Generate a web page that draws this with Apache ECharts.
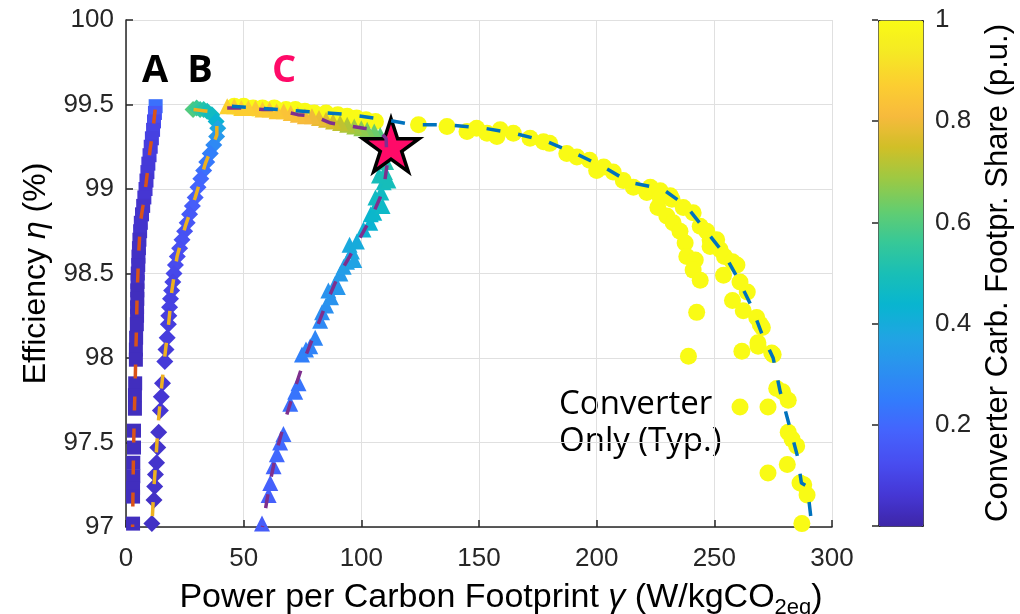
<!DOCTYPE html>
<html>
<head>
<meta charset="utf-8">
<script src="https://cdn.jsdelivr.net/npm/echarts/dist/echarts.min.js"></script>
<style>html,body{margin:0;padding:0;background:#fff}#chart{width:1020px;height:614px}</style>
</head>
<body>
<div id="chart"></div>
<script>
// parula colormap stops (0 -> 1)
var parula = ['#3E26A8', '#4537D5', '#484DF0', '#4563FD', '#327CFC', '#2B91EF', '#20A5E3', '#08B5D0',
  '#19BFB6', '#37C897', '#64CD6F', '#9DC943', '#D1BF27', '#F8BA3D', '#FCCF30', '#F5E924', '#F9FB15'];

// [gamma, efficiency, converter share]
var convPts = [
  [46,99.49,1],[50,99.49,1],[54,99.48,1],[58,99.48,1],[63,99.48,1],[68,99.47,1],[72,99.47,1],[76,99.46,1],
  [80,99.45,1],[85,99.45,1],[90,99.44,1],[94,99.43,1],[98,99.42,1],[102,99.41,1],[106,99.4,1],
  [124.3,99.38,1],[136.4,99.37,1],[144.9,99.34,1],[149,99.36,1],[153.4,99.33,1],[157.6,99.31,1],[159,99.35,1],
  [164.6,99.33,1],[171.7,99.3,1],[177.4,99.28,1],[180,99.27,1],[187.3,99.21,1],[191.6,99.19,1],[197,99.17,1],
  [200,99.11,1],[203,99.13,1],[207,99.1,1],[211.3,99.05,1],[215.6,99.01,1],[221.3,98.98,1],[222.8,99.01,1],
  [227,98.99,1],[227,98.95,1],[231.3,98.96,1],[232,98.94,1],
  [226,98.89,1],[229.8,98.84,1],[232.5,98.8,1],[235.4,98.75,1],[237.6,98.68,1],[238.3,98.6,1],[241.9,98.58,1],
  [241,98.52,1],[244,98.46,1],[242.5,98.27,1],[239,98.01,1],
  [236.8,98.89,1],[241,98.86,1],[244,98.78,1],[246.8,98.75,1],[248.2,98.7,1],[251,98.7,1],[252.5,98.64,1],
  [248.2,98.66,1],[254.3,98.6,1],[257.7,98.57,1],[259.6,98.55,1],[253.9,98.49,1],[260.9,98.45,1],[264,98.39,1],
  [257.7,98.34,1],[262.3,98.28,1],[268,98.24,1],[269.5,98.2,1],[270.4,98.18,1],[268.5,98.09,1],
  [261.7,98.04,1],[268.6,98.07,1],[275,98.02,1],[274.4,98.03,1],[276.5,97.82,1],[279,97.8,1],[281.4,97.75,1],
  [272.8,97.71,1],[260.9,97.71,1],[281.4,97.56,1],[283,97.52,1],[285,97.48,1],[281,97.37,1],[272.8,97.32,1],
  [286.4,97.26,1],[288,97.25,1],[289.4,97.19,1],[287.2,97.02,1]
];

var aPts = [
  [12.6,99.49,0.22],[12.3,99.45,0.16],[11.9,99.4,0.12],[11.5,99.35,0.1],[11.0,99.3,0.09],[10.5,99.25,0.08],
  [10.0,99.2,0.08],[9.5,99.15,0.07],[9.1,99.1,0.07],[8.7,99.05,0.06],[8.3,99.0,0.06],[7.8,98.95,0.06],
  [7.3,98.9,0.05],[6.8,98.85,0.05],[6.3,98.8,0.05],[6.0,98.75,0.05],[5.7,98.7,0.04],[5.5,98.65,0.04],
  [5.3,98.6,0.04],[5.2,98.55,0.04],[5.0,98.5,0.04],[4.9,98.45,0.04],[4.8,98.4,0.03],[4.8,98.35,0.03],
  [4.7,98.3,0.03],[4.7,98.25,0.03],[4.6,98.2,0.03],[4.3,98.12,0.03],[4.2,98.05,0.03],[4.2,97.99,0.03],
  [3.9,97.85,0.03],[3.8,97.78,0.03],[3.8,97.7,0.03],[3.4,97.57,0.03],[3.4,97.47,0.03],[3.1,97.38,0.03],
  [3.1,97.3,0.03],[3.0,97.23,0.03],[3.0,97.18,0.03],[3.0,97.02,0.03]
];

var bPts = [
  [28.5,99.47,0.6],[30,99.48,0.57],[31.5,99.47,0.55],[33,99.47,0.52],[34.5,99.46,0.5],[36.5,99.44,0.47],
  [38.3,99.4,0.43],[39,99.36,0.38],[38.5,99.31,0.33],[37.3,99.26,0.29],[35.8,99.21,0.26],[34.3,99.16,0.24],
  [33,99.11,0.22],[31.8,99.06,0.2],[30.6,99.01,0.19],[29.4,98.95,0.18],[28.2,98.9,0.17],[27,98.85,0.16],
  [26,98.8,0.15],[24.9,98.75,0.14],[23.8,98.7,0.14],[22.8,98.65,0.13],[21.8,98.6,0.12],[21,98.55,0.12],
  [20.4,98.5,0.11],[19.9,98.45,0.1],[19.4,98.4,0.1],[18.9,98.35,0.09],[18.5,98.3,0.09],[18.2,98.25,0.08],
  [18,98.2,0.08],[17.5,98.12,0.08],[17,98.05,0.07],[16.5,97.98,0.07],[15.5,97.85,0.06],[15,97.77,0.06],
  [14.6,97.69,0.06],[13.9,97.56,0.05],[13.5,97.47,0.05],[13,97.38,0.05],[12.5,97.31,0.05],[12.2,97.24,0.05],
  [11.9,97.16,0.04],[11,97.02,0.04]
];

var cPts = [
  [57.8,97.02,0.17],[60.6,97.19,0.18],[61.3,97.26,0.18],[62.7,97.36,0.19],[64.1,97.43,0.2],[65.5,97.5,0.2],
  [66.9,97.55,0.21],[69.8,97.73,0.22],[71.9,97.8,0.23],[73.3,97.85,0.23],[74.8,98.02,0.26],[76.5,98.05,0.27],
  [78.3,98.07,0.27],[80.4,98.12,0.28],[82.5,98.22,0.29],[83.3,98.27,0.3],[85,98.31,0.31],[87.1,98.36,0.32],
  [86,98.4,0.32],[90,98.42,0.33],[88.9,98.44,0.33],[91.1,98.5,0.34],[92.5,98.54,0.35],[93.9,98.57,0.36],
  [97,98.58,0.37],[96,98.63,0.38],[95,98.67,0.39],[98.1,98.69,0.4],[100.9,98.76,0.42],[103.8,98.8,0.43],
  [104,98.85,0.44],[105.5,98.86,0.45],[109,98.9,0.46],[107,98.92,0.46],[106,98.95,0.47],[108.5,98.98,0.47],
  [109.5,99.04,0.48],[111.5,99.05,0.49],[107.5,99.08,0.49],[110,99.1,0.5],[110.5,99.16,0.52],[111,99.22,0.54],
  [110,99.28,0.57],[108,99.32,0.6],[105.5,99.34,0.63],[102.5,99.35,0.65],[100,99.36,0.67],[97,99.37,0.69],
  [94,99.38,0.71],[91,99.39,0.73],[88,99.4,0.75],[85,99.41,0.77],[82,99.42,0.79],[79,99.43,0.8],[76,99.43,0.81],
  [73,99.44,0.82],[70,99.45,0.83],[67,99.46,0.84],[64,99.46,0.85],[61,99.47,0.85],[58,99.47,0.86],
  [55,99.48,0.86],[52,99.48,0.87],[49,99.48,0.87],[46,99.49,0.87],[43,99.49,0.88]
];

// fitted fronts (dashed)
var aLine = [[12.4,99.47],[11.3,99.33],[10.3,99.24],[8.5,99.03],[7.2,98.9],[6.1,98.8],[5.4,98.62],[4.7,98.37],
  [4.5,98.2],[4.2,98.05],[3.9,97.85],[3.5,97.65],[3.2,97.45],[3.0,97.25],[2.8,97.0]];
var bLine = [[28.7,99.47],[35,99.46],[38.6,99.38],[38.6,99.32],[33.7,99.15],[29.4,98.95],[25.2,98.78],[21.7,98.6],
  [19.5,98.4],[18.1,98.2],[16.4,98.0],[14.9,97.8],[13.6,97.6],[12.7,97.4],[11.7,97.2],[11,97.0]];
var cLine = [[43,99.48],[50,99.48],[58,99.47],[64,99.47],[73,99.44],[80,99.43],[87,99.39],[92,99.38],[101,99.36],
  [107,99.35],[110.5,99.3],[111,99.15],[110,99.05],[108,98.95],[105.5,98.87],[103,98.8],[99,98.7],[95,98.6],
  [90,98.48],[85,98.32],[80,98.14],[76,98.0],[72,97.83],[68,97.65],[64,97.45],[61,97.25],[58,97.0]];
var convLine = [[45,99.49],[65,99.47],[95,99.44],[110,99.41],[122,99.38],[137,99.38],[152,99.36],[165,99.33],
  [179,99.28],[191,99.21],[203,99.13],[214,99.04],[228,99.0],[238,98.9],[246,98.76],[254,98.62],[260,98.47],
  [266,98.3],[270,98.15],[275,98.0],[278,97.8],[281.5,97.62],[285.3,97.42],[287,97.26],[289.5,97.24],[291.5,97.0]];

var starPt = [[112.6, 99.26]];
var colorbarTicks = [0.2, 0.4, 0.6, 0.8, 1];

var chart = echarts.init(document.getElementById('chart'), null, { renderer: 'canvas' });
var ink = '#262626';
var fam = '"Liberation Sans", Arial, sans-serif';
var starPath = 'path://M50,0 L61.23,34.55 L97.55,34.55 L68.17,55.9 L79.39,90.45 L50,69.1 L20.61,90.45 L31.83,55.9 L2.45,34.55 L38.77,34.55 Z';

function dashLine(data, color) {
  return {
    type: 'line', data: data, symbol: 'none', silent: true,
    lineStyle: { color: color, width: 3.5, type: [14, 18] }
  };
}
function markers(data, symbol, size) {
  return { type: 'scatter', data: data, symbol: symbol, symbolSize: size, silent: true, itemStyle: { opacity: 1 } };
}

var option = {
  animation: false,
  backgroundColor: '#fff',
  grid: [
    { left: 126, right: 188, top: 20, bottom: 87, outerBoundsMode: 'none' },
    { left: 878, top: 20, width: 45, height: 506, outerBoundsMode: 'none' }
  ],
  xAxis: [{
    gridIndex: 0, type: 'value', min: 0, max: 300, interval: 50,
    axisLine: { lineStyle: { color: ink, width: 1.5 } },
    axisTick: { inside: true, length: 7, lineStyle: { color: ink, width: 1.5 } },
    axisLabel: { color: ink, fontSize: 26, fontFamily: fam, margin: 19 },
    splitLine: { show: true, lineStyle: { color: '#e0e0e0', width: 1 } },
    name: 'Power per Carbon Footprint {i|γ} (W/kgCO{s|2eq})',
    nameLocation: 'middle', nameGap: 48,
    nameTextStyle: {
      color: '#000', fontSize: 34, fontFamily: fam, lineHeight: 42, padding: [0, 0, 0, 44],
      rich: {
        i: { fontSize: 34, fontFamily: fam, fontStyle: 'italic', color: '#000', lineHeight: 42 },
        s: { fontSize: 22, fontFamily: fam, color: '#000', lineHeight: 17, verticalAlign: 'bottom' }
      }
    }
  }, {
    gridIndex: 1, type: 'value', min: 0, max: 1, show: false
  }],
  yAxis: [{
    gridIndex: 0, type: 'value', min: 97, max: 100, interval: 0.5,
    axisLine: { lineStyle: { color: ink, width: 1.5 } },
    axisTick: { inside: true, length: 7, lineStyle: { color: ink, width: 1.5 } },
    axisLabel: { color: ink, fontSize: 26, fontFamily: fam, margin: 12 },
    splitLine: { show: true, lineStyle: { color: '#e0e0e0', width: 1 } },
    name: 'Efficiency {i|η} (%)',
    nameLocation: 'middle', nameGap: 72, nameRotate: 90,
    nameTextStyle: {
      color: '#000', fontSize: 32, fontFamily: fam,
      rich: { i: { fontSize: 32, fontFamily: fam, fontStyle: 'italic', color: '#000' } }
    }
  }, {
    gridIndex: 1, type: 'value', min: 0, max: 1, interval: 0.2, position: 'right', z: 10,
    axisLine: { show: false },
    axisTick: { inside: true, length: 6, lineStyle: { color: ink, width: 1.5 } },
    axisLabel: {
      color: ink, fontSize: 26, fontFamily: fam, margin: 12,
      formatter: function (v) { return colorbarTicks.indexOf(Math.round(v * 10) / 10) >= 0 ? String(Math.round(v * 10) / 10) : ''; }
    },
    splitLine: { show: false },
    name: 'Converter Carb. Footpr. Share (p.u.)',
    nameLocation: 'middle', nameRotate: 90, nameGap: 60,
    nameTextStyle: { color: '#000', fontSize: 31, fontFamily: fam }
  }],
  visualMap: {
    type: 'continuous', min: 0, max: 1, dimension: 2, seriesIndex: [0, 1, 2, 3],
    orient: 'vertical', left: 878, top: 20, itemWidth: 45, itemHeight: 506,
    padding: 0, calculable: false, hoverLink: false,
    borderColor: ink, borderWidth: 1,
    inRange: { color: parula }
  },
  graphic: [
    { type: 'text', x: 155, y: 71, style: { text: 'A', font: 'bold 38px "Open Sans"', fill: '#000', align: 'center', verticalAlign: 'middle' } },
    { type: 'text', x: 200, y: 71, style: { text: 'B', font: 'bold 38px "Open Sans"', fill: '#000', align: 'center', verticalAlign: 'middle' } },
    { type: 'text', x: 284, y: 71, style: { text: 'C', font: 'bold 38px "Open Sans"', fill: '#FF0A68', align: 'center', verticalAlign: 'middle' } },
    { type: 'text', x: 559, y: 405, style: { text: 'Converter', font: '33px "Open Sans"', fill: '#000', align: 'left', verticalAlign: 'middle' } },
    { type: 'text', x: 559, y: 442, style: { text: 'Only (Typ.)', font: '33px "Open Sans"', fill: '#000', align: 'left', verticalAlign: 'middle' } }
  ],
  series: [
    markers(convPts, 'circle', 17),
    markers(aPts, 'rect', 14),
    markers(bPts, 'diamond', 17),
    markers(cPts, 'triangle', 16),
    dashLine(aLine, '#D95319'),
    dashLine(bLine, '#EDB120'),
    dashLine(cLine, '#7E2F8E'),
    dashLine(convLine, '#0072BD'),
    {
      type: 'scatter', data: starPt, symbol: starPath, symbolSize: 56, symbolKeepAspect: true, silent: true,
      itemStyle: { color: '#FF0A68', borderColor: '#000', borderWidth: 3.5, opacity: 1 }
    }
  ]
};
chart.setOption(option);
</script>
</body>
</html>
